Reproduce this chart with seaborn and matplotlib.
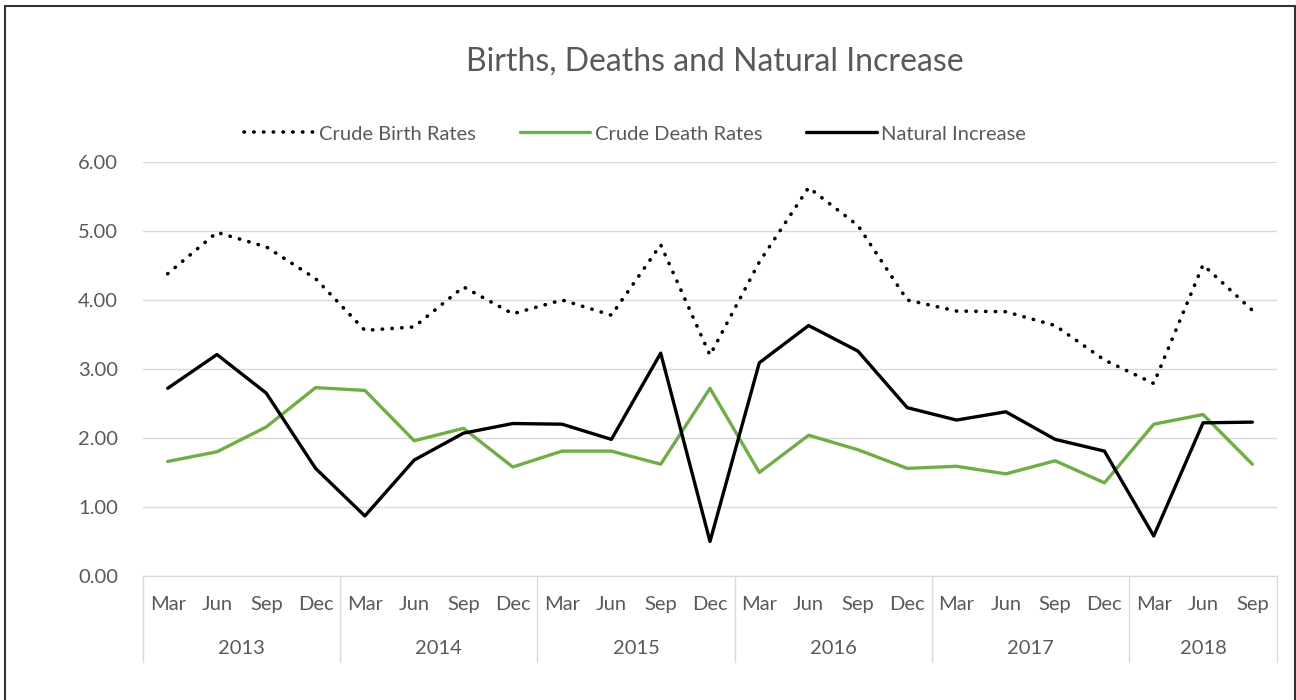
import numpy as np
import pandas as pd
import matplotlib.pyplot as plt
import seaborn as sns

# Quarterly data, Mar 2013 - Sep 2018
years = ['2013', '2014', '2015', '2016', '2017', '2018']
months = ['Mar', 'Jun', 'Sep', 'Dec'] * 5 + ['Mar', 'Jun', 'Sep']
birth_rates = [4.38, 4.98, 4.77, 4.31, 3.56, 3.61, 4.19, 3.80,
               4.00, 3.78, 4.80, 3.20, 4.55, 5.63, 5.08, 4.00,
               3.84, 3.83, 3.63, 3.13, 2.79, 4.51, 3.85]
death_rates = [1.66, 1.80, 2.16, 2.73, 2.69, 1.96, 2.14, 1.58,
               1.81, 1.81, 1.62, 2.72, 1.50, 2.04, 1.83, 1.56,
               1.59, 1.48, 1.67, 1.35, 2.20, 2.34, 1.62]
natural_increase = [2.72, 3.21, 2.65, 1.56, 0.87, 1.68, 2.07, 2.21,
                    2.20, 1.98, 3.23, 0.50, 3.09, 3.63, 3.26, 2.44,
                    2.26, 2.38, 1.98, 1.81, 0.58, 2.22, 2.23]

df = pd.DataFrame({'idx': np.arange(len(months)),
                   'birth': birth_rates,
                   'death': death_rates,
                   'natural': natural_increase})

sns.set_style('white')
plt.rcParams['font.family'] = ['Lato', 'DejaVu Sans']
text_color = '#595959'
grid_color = '#D9D9D9'
fs = 14.5

fig = plt.figure(figsize=(12.96, 7), dpi=100)
ax = fig.add_axes([143 / 1296, 1 - 576 / 700, (1277 - 143) / 1296, 414 / 700])

sns.lineplot(data=df, x='idx', y='birth', ax=ax, color='black', lw=2.6,
             linestyle=(0, (0.1, 2.6)), dash_capstyle='round',
             label='Crude Birth Rates')
sns.lineplot(data=df, x='idx', y='death', ax=ax, color='#70AD47', lw=2.4,
             label='Crude Death Rates')
sns.lineplot(data=df, x='idx', y='natural', ax=ax, color='black', lw=2.4,
             label='Natural Increase')

ax.set_xlim(-0.5, len(months) - 0.5)
ax.set_ylim(0, 6)
ax.set_yticks(np.arange(0, 7, 1))
ax.set_yticklabels([f'{v:.2f}' for v in np.arange(0, 7, 1)])
ax.yaxis.grid(True, color=grid_color, lw=1)
ax.set_axisbelow(True)
for s in ['top', 'right', 'left']:
    ax.spines[s].set_visible(False)
ax.spines['bottom'].set_color(grid_color)
ax.tick_params(axis='y', length=0, pad=18, labelsize=fs, labelcolor=text_color)
ax.set_xticks([])
ax.set_xlabel('')
ax.set_ylabel('')

# multi-level category axis
trans = ax.get_xaxis_transform()
for i, m in enumerate(months):
    ax.text(i, -0.07, m, transform=trans, ha='center', va='center',
            fontsize=fs, color=text_color)
bounds = [-0.5] + [3.5 + 4 * k for k in range(5)] + [len(months) - 0.5]
for b in bounds:
    ax.plot([b, b], [0, -0.208], transform=trans, color=grid_color, lw=1,
            clip_on=False)
for k, y in enumerate(years):
    mid = (bounds[k] + bounds[k + 1]) / 2
    ax.text(mid, -0.174, y, transform=trans, ha='center', va='center',
            fontsize=fs, color=text_color)

fig.text(715 / 1296, 1 - 62 / 700, 'Births, Deaths and Natural Increase',
         ha='center', va='center', fontsize=23, color=text_color)

ax.legend(loc='center', bbox_to_anchor=(635 / 1296, 1 - 134 / 700),
          bbox_transform=fig.transFigure, ncol=3, frameon=False,
          fontsize=fs, handlelength=3.5, handletextpad=0.2, columnspacing=2.2,
          labelcolor=text_color)

# outer frame
fig.add_artist(plt.Line2D([5 / 1296, 5 / 1296], [0, 1 - 6 / 700], color='#333333', lw=1.5))
fig.add_artist(plt.Line2D([5 / 1296, 1295 / 1296], [1 - 6 / 700, 1 - 6 / 700], color='#333333', lw=1.5))
fig.add_artist(plt.Line2D([1295 / 1296, 1295 / 1296], [0, 1 - 6 / 700], color='#333333', lw=1.5))

fig.savefig('out.png', dpi=100)
